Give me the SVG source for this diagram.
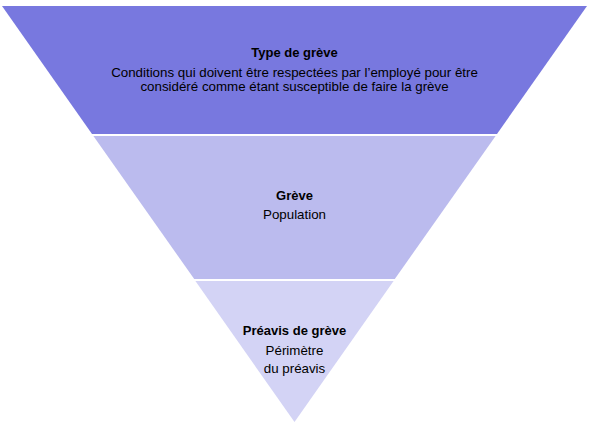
<svg xmlns="http://www.w3.org/2000/svg" width="589" height="430" viewBox="0 0 589 430">
<style>
text{font-family:"Liberation Sans",Arial,sans-serif;font-size:13.33px;fill:#000;text-anchor:middle}
.b{font-weight:bold;font-size:13px}
</style>
<rect width="589" height="430" fill="#fff"/>
<g id="level1">
<polygon points="2,6 587,6 497,134 92,134" fill="#7878DF"/>
<text class="b" x="294.5" y="57">Type de grève</text>
<text x="294.5" y="77">Conditions qui doivent être respectées par l’employé pour être</text>
<text x="294.5" y="91">considéré comme étant susceptible de faire la grève</text>
</g>
<g id="level2">
<polygon points="93.4,136 495.6,136 394.8,279 194.2,279" fill="#BBBBEE"/>
<text class="b" x="294.5" y="200">Grève</text>
<text x="294.5" y="219">Population</text>
</g>
<g id="level3">
<polygon points="195.4,281 393.6,281 294.5,422" fill="#D3D3F5"/>
<text class="b" x="294.5" y="335">Préavis de grève</text>
<text x="294.5" y="355">Périmètre</text>
<text x="294.5" y="373">du préavis</text>
</g>
<g id="connectors"/>
</svg>
